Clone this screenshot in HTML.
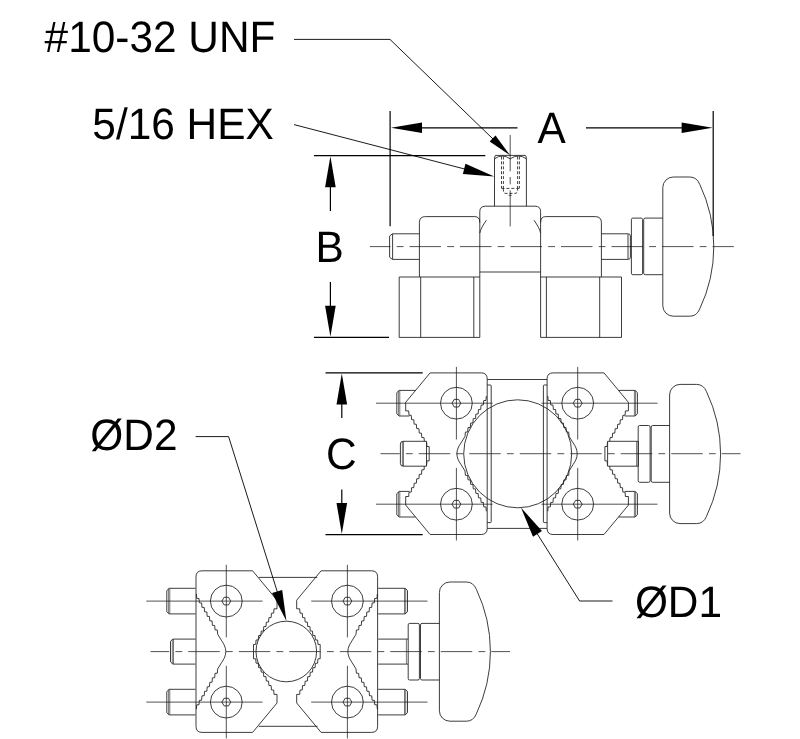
<!DOCTYPE html>
<html><head><meta charset="utf-8"><title>Clamp drawing</title>
<style>
html,body{margin:0;padding:0;background:#fff;}
svg{display:block;will-change:transform;}
.o{stroke:#1a1a1a;stroke-width:.85;fill:none;stroke-linejoin:round;}
.t{stroke:#1a1a1a;stroke-width:.6;fill:none;}
.c{stroke:#1a1a1a;stroke-width:.75;fill:none;}
.h{stroke:#111;stroke-width:.8;fill:none;stroke-dasharray:3 1.9;}
.d{stroke:#000;stroke-width:1.2;fill:none;}
.l{stroke:#000;stroke-width:.9;fill:none;}
.a{fill:#000;stroke:none;}
text{font-family:"Liberation Sans",sans-serif;font-size:42.4px;text-rendering:geometricPrecision;fill:#000;}
</style></head>
<body>
<svg width="800" height="739" viewBox="0 0 800 739">
<rect x="0" y="0" width="800" height="739" fill="#fff"/>
<path class="o" d="M479.8 337.4V211.7Q479.8 206.2 485.3 206.2H535.1Q540.6 206.2 540.6 211.7V337.4" />
<path class="o" d="M479.80 272.00L540.60 272.00" />
<path class="o" d="M494.5 206.2V158.4M526.4 206.2V158.4M495.7 155.4H525.1999999999999" />
<path class="o" d="M494.5 158.6Q494.5 155.4 496.0 155.4M526.4 158.6Q526.4 155.4 524.9 155.4" />
<path class="o" d="M494.5 158.8Q502.35 153.2 510.2 158.8Q518.3 153.2 526.4 158.8" />
<path class="o" d="M479.8 233Q480.8 228 486.40000000000003 220.2" />
<path class="o" d="M540.6 233Q539.6 228 534.0 220.2" />
<path class="o" d="M419.4 277V222.6Q419.4 216.6 425.4 216.6H474.8Q479.8 216.6 479.8 222.5" />
<path class="o" d="M601.4 277V222.6Q601.4 216.6 595.4 216.6H545.6Q540.6 216.6 540.6 222.5" />
<path class="o" d="M479.8 277H399.2V337.4H479.8" />
<path class="o" d="M540.6 277H621.5V337.4H540.6" />
<path class="o" d="M473.80 277.00L473.80 337.40" />
<path class="o" d="M546.40 277.00L546.40 337.40" />
<path class="o" d="M420.70 277.00L420.70 337.40" />
<path class="o" d="M599.70 277.00L599.70 337.40" />
<path class="o" d="M419.4 233.8H392.4L389.6 236V257.2L392.4 259.4H419.4" />
<path class="o" d="M392.60 234.00L392.60 259.20" />
<path class="o" d="M601.4 233.8H628.2Q630.4 233.8 630.4 236V257.2Q630.4 259.4 628.2 259.4H601.4" />
<path class="o" d="M628.00 234.20L628.00 259.00" />
<rect class="o" x="631.4" y="218.1" width="11.2" height="56.6" rx="1.5"/>
<path class="o" d="M662.8000000000001 218.1H645.2Q643.7 218.1 643.7 219.6V273.2Q643.7 274.7 645.2 274.7H662.8000000000001" />
<path class="o" d="M662.8 187.5A10.5 10.5 0 0 1 673.3 177.0H689.8Q696.73 177.0 699.73 184.3A145 145 0 0 1 699.73 308.9Q696.73 316.2 689.8 316.2H673.3A10.5 10.5 0 0 1 662.8 305.7Z" />
<path class="h" d="M501.5 156.5V188.3"/>
<path class="h" d="M503.4 156.5V188.3"/>
<path class="h" d="M517.6 156.5V188.3"/>
<path class="h" d="M519.4 156.5V188.3"/>
<path class="h" d="M501.5 188.4H519.4"/>
<path class="h" d="M503.4 188.6V191Q503.4 193.4 506 193.4H514.6Q517.6 193.4 517.6 191V188.6"/>
<path class="c" d="M508.70 195.30L511.70 195.30" />
<path class="c" d="M510.2 135V171.3M510.2 177V184.3M510.2 190.4V226.4"/>
<path class="c" d="M370.00 246.60H733.80" stroke-dasharray="31.5 6.2 6.8 6" stroke-dashoffset="11.00"/>
<g transform="translate(456.4 453.7) scale(1 1)">
<path class="o" d="M-27.20 0.00L-27.20 -7.10L-29.46 -7.26L-29.76 -11.56L-32.02 -11.72L-32.33 -16.03L-34.58 -16.19L-34.89 -20.49L-37.14 -20.65L-37.45 -24.95L-39.71 -25.11L-40.01 -29.41L-42.27 -29.57L-42.58 -33.88L-44.83 -34.04L-45.14 -38.34L-47.39 -38.50L-47.70 -42.80L-50.70 -42.80L-50.70 -51.40L-26.30 -80.80L24.80 -80.80Q30.8 -80.80 30.8 -74.80L30.8 0" />
<path class="o" d="M0.5 0C0.5 -4.00 2.2 -7.40 4.6 -10.80L8.60 -17.30L9.00 -21.60L11.30 -21.76L11.61 -26.10L13.91 -26.26L14.22 -30.60L16.52 -30.76L16.84 -35.10L19.14 -35.26L19.45 -39.60L21.75 -39.76L22.06 -44.10L24.36 -44.26L24.67 -48.60L26.97 -48.76L27.29 -53.10L29.59 -53.26L29.90 -57.60" />
<path class="o" d="M-27.20 0.00L-27.20 7.10L-29.46 7.26L-29.76 11.56L-32.02 11.72L-32.33 16.03L-34.58 16.19L-34.89 20.49L-37.14 20.65L-37.45 24.95L-39.71 25.11L-40.01 29.41L-42.27 29.57L-42.58 33.88L-44.83 34.04L-45.14 38.34L-47.39 38.50L-47.70 42.80L-50.70 42.80L-50.70 51.40L-26.30 80.80L24.80 80.80Q30.8 80.80 30.8 74.80L30.8 0" />
<path class="o" d="M0.5 0C0.5 4.00 2.2 7.40 4.6 10.80L8.60 17.30L9.00 21.60L11.30 21.76L11.61 26.10L13.91 26.26L14.22 30.60L16.52 30.76L16.84 35.10L19.14 35.26L19.45 39.60L21.75 39.76L22.06 44.10L24.36 44.26L24.67 48.60L26.97 48.76L27.29 53.10L29.59 53.26L29.90 57.60" />
</g>
<circle class="o" cx="456.40" cy="403.20" r="15.90"/>
<path class="o" d="M460.80 403.20L458.60 407.01L454.20 407.01L452.00 403.20L454.20 399.39L458.60 399.39Z" />
<circle class="o" cx="456.40" cy="504.20" r="15.90"/>
<path class="o" d="M460.80 504.20L458.60 508.01L454.20 508.01L452.00 504.20L454.20 500.39L458.60 500.39Z" />
<g transform="translate(577.7 453.7) scale(-1 1)">
<path class="o" d="M-27.20 0.00L-27.20 -7.10L-29.46 -7.26L-29.76 -11.56L-32.02 -11.72L-32.33 -16.03L-34.58 -16.19L-34.89 -20.49L-37.14 -20.65L-37.45 -24.95L-39.71 -25.11L-40.01 -29.41L-42.27 -29.57L-42.58 -33.88L-44.83 -34.04L-45.14 -38.34L-47.39 -38.50L-47.70 -42.80L-50.70 -42.80L-50.70 -51.40L-26.30 -80.80L24.60 -80.80Q30.6 -80.80 30.6 -74.80L30.6 0" />
<path class="o" d="M0.5 0C0.5 -4.00 2.2 -7.40 4.6 -10.80L8.60 -17.30L9.00 -21.60L11.30 -21.76L11.61 -26.10L13.91 -26.26L14.22 -30.60L16.52 -30.76L16.84 -35.10L19.14 -35.26L19.45 -39.60L21.75 -39.76L22.06 -44.10L24.36 -44.26L24.67 -48.60L26.97 -48.76L27.29 -53.10L29.59 -53.26L29.90 -57.60" />
<path class="o" d="M-27.20 0.00L-27.20 7.10L-29.46 7.26L-29.76 11.56L-32.02 11.72L-32.33 16.03L-34.58 16.19L-34.89 20.49L-37.14 20.65L-37.45 24.95L-39.71 25.11L-40.01 29.41L-42.27 29.57L-42.58 33.88L-44.83 34.04L-45.14 38.34L-47.39 38.50L-47.70 42.80L-50.70 42.80L-50.70 51.40L-26.30 80.80L24.60 80.80Q30.6 80.80 30.6 74.80L30.6 0" />
<path class="o" d="M0.5 0C0.5 4.00 2.2 7.40 4.6 10.80L8.60 17.30L9.00 21.60L11.30 21.76L11.61 26.10L13.91 26.26L14.22 30.60L16.52 30.76L16.84 35.10L19.14 35.26L19.45 39.60L21.75 39.76L22.06 44.10L24.36 44.26L24.67 48.60L26.97 48.76L27.29 53.10L29.59 53.26L29.90 57.60" />
</g>
<circle class="o" cx="577.70" cy="403.20" r="15.90"/>
<path class="o" d="M582.10 403.20L579.90 407.01L575.50 407.01L573.30 403.20L575.50 399.39L579.90 399.39Z" />
<circle class="o" cx="577.70" cy="504.20" r="15.90"/>
<path class="o" d="M582.10 504.20L579.90 508.01L575.50 508.01L573.30 504.20L575.50 500.39L579.90 500.39Z" />
<path class="o" d="M487.2 385H490.4Q491.2 385 491.2 385.8V521.8Q491.2 522.6 490.4 522.6H487.2" />
<path class="o" d="M547.1 385H544.2Q543.4 385 543.4 385.8V521.8Q543.4 522.6 544.2 522.6H547.1" />
<path class="o" d="M487.20 379.50L547.10 379.50" />
<path class="o" d="M487.20 528.40L547.10 528.40" />
<circle class="o" cx="517.70" cy="453.80" r="54.00"/>
<path class="o" d="M415.4 390.4H399.2L396.8 392.59999999999997V413.8L399.2 416.0H409.3" />
<path class="t" d="M398.60 390.80L398.60 415.60" />
<path class="t" d="M399.80 390.60L399.80 415.80" />
<path class="o" d="M409.3 491.4H399.2L396.8 493.59999999999997V514.8L399.2 517.0H415.4" />
<path class="t" d="M398.60 491.80L398.60 516.60" />
<path class="t" d="M399.80 491.60L399.80 516.80" />
<path class="o" d="M618.7 390.4H635.0L637.4 392.59999999999997V413.8L635.0 416.0H624.8" />
<path class="t" d="M635.60 390.80L635.60 415.60" />
<path class="t" d="M634.40 390.60L634.40 415.80" />
<path class="o" d="M624.8 491.4H635.0L637.4 493.59999999999997V514.8L635.0 517.0H618.7" />
<path class="t" d="M635.60 491.80L635.60 516.60" />
<path class="t" d="M634.40 491.60L634.40 516.80" />
<path class="o" d="M426.5 441.3H403Q400.4 441.3 400.4 444V463.4Q400.4 466.2 403 466.2H426.5Z" style="fill:#fff"/>
<path class="t" d="M402.40 441.60L402.40 466.00" />
<path class="t" d="M403.50 441.50L403.50 466.00" />
<path class="o" d="M638.3 441.3H607.6V466.2H638.3Z" style="fill:#fff"/>
<rect class="o" x="638.2" y="425.5" width="11.9" height="56.8" rx="1.5"/>
<path class="o" d="M669.7 425.5H652.7Q651.2 425.5 651.2 427.0V480.8Q651.2 482.3 652.7 482.3H669.7" />
<path class="t" d="M636.60 441.60L636.60 466.00" />
<path class="o" d="M669.6 394.9A10.5 10.5 0 0 1 680.1 384.4H696.6Q703.53 384.4 706.53 391.7A145 145 0 0 1 706.53 516.3Q703.53 523.6 696.6 523.6H680.1A10.5 10.5 0 0 1 669.6 513.1Z" />
<path class="c" d="M376.00 403.20L492.60 403.20" />
<path class="c" d="M541.40 403.20L657.50 403.20" />
<path class="c" d="M456.40 366.90L456.40 439.50" />
<path class="c" d="M577.70 366.90L577.70 439.50" />
<path class="c" d="M376.00 504.20L492.60 504.20" />
<path class="c" d="M541.40 504.20L657.50 504.20" />
<path class="c" d="M456.40 467.90L456.40 540.50" />
<path class="c" d="M577.70 467.90L577.70 540.50" />
<path class="c" d="M380.50 453.70H740.50" stroke-dasharray="31.5 6.2 6.8 6" stroke-dashoffset="12.25"/>
<g transform="translate(226.3 651.6) scale(-1 1)">
<path class="o" d="M-27.20 0.00L-27.20 -7.10L-29.46 -7.26L-29.76 -11.56L-32.02 -11.72L-32.33 -16.03L-34.58 -16.19L-34.89 -20.49L-37.14 -20.65L-37.45 -24.95L-39.71 -25.11L-40.01 -29.41L-42.27 -29.57L-42.58 -33.88L-44.83 -34.04L-45.14 -38.34L-47.39 -38.50L-47.70 -42.80L-50.70 -42.80L-50.70 -51.40L-26.30 -80.80L24.30 -80.80Q30.3 -80.80 30.3 -74.80L30.3 0" />
<path class="o" d="M0.5 0C0.5 -4.00 2.2 -7.40 4.6 -10.80L8.60 -17.30L9.00 -21.60L11.30 -21.76L11.61 -26.10L13.91 -26.26L14.22 -30.60L16.52 -30.76L16.84 -35.10L19.14 -35.26L19.45 -39.60L21.75 -39.76L22.06 -44.10L24.36 -44.26L24.67 -48.60L26.97 -48.76L27.29 -53.10L29.59 -53.26L29.90 -57.60" />
<path class="o" d="M-27.20 0.00L-27.20 7.10L-29.46 7.26L-29.76 11.56L-32.02 11.72L-32.33 16.03L-34.58 16.19L-34.89 20.49L-37.14 20.65L-37.45 24.95L-39.71 25.11L-40.01 29.41L-42.27 29.57L-42.58 33.88L-44.83 34.04L-45.14 38.34L-47.39 38.50L-47.70 42.80L-50.70 42.80L-50.70 51.40L-26.30 80.80L24.30 80.80Q30.3 80.80 30.3 74.80L30.3 0" />
<path class="o" d="M0.5 0C0.5 4.00 2.2 7.40 4.6 10.80L8.60 17.30L9.00 21.60L11.30 21.76L11.61 26.10L13.91 26.26L14.22 30.60L16.52 30.76L16.84 35.10L19.14 35.26L19.45 39.60L21.75 39.76L22.06 44.10L24.36 44.26L24.67 48.60L26.97 48.76L27.29 53.10L29.59 53.26L29.90 57.60" />
</g>
<circle class="o" cx="226.30" cy="601.10" r="15.90"/>
<path class="o" d="M230.70 601.10L228.50 604.91L224.10 604.91L221.90 601.10L224.10 597.29L228.50 597.29Z" />
<circle class="o" cx="226.30" cy="702.10" r="15.90"/>
<path class="o" d="M230.70 702.10L228.50 705.91L224.10 705.91L221.90 702.10L224.10 698.29L228.50 698.29Z" />
<g transform="translate(347.4 651.6) scale(1 1)">
<path class="o" d="M-27.20 0.00L-27.20 -7.10L-29.46 -7.26L-29.76 -11.56L-32.02 -11.72L-32.33 -16.03L-34.58 -16.19L-34.89 -20.49L-37.14 -20.65L-37.45 -24.95L-39.71 -25.11L-40.01 -29.41L-42.27 -29.57L-42.58 -33.88L-44.83 -34.04L-45.14 -38.34L-47.39 -38.50L-47.70 -42.80L-50.70 -42.80L-50.70 -51.40L-26.30 -80.80L24.20 -80.80Q30.2 -80.80 30.2 -74.80L30.2 0" />
<path class="o" d="M0.5 0C0.5 -4.00 2.2 -7.40 4.6 -10.80L8.60 -17.30L9.00 -21.60L11.30 -21.76L11.61 -26.10L13.91 -26.26L14.22 -30.60L16.52 -30.76L16.84 -35.10L19.14 -35.26L19.45 -39.60L21.75 -39.76L22.06 -44.10L24.36 -44.26L24.67 -48.60L26.97 -48.76L27.29 -53.10L29.59 -53.26L29.90 -57.60" />
<path class="o" d="M-27.20 0.00L-27.20 7.10L-29.46 7.26L-29.76 11.56L-32.02 11.72L-32.33 16.03L-34.58 16.19L-34.89 20.49L-37.14 20.65L-37.45 24.95L-39.71 25.11L-40.01 29.41L-42.27 29.57L-42.58 33.88L-44.83 34.04L-45.14 38.34L-47.39 38.50L-47.70 42.80L-50.70 42.80L-50.70 51.40L-26.30 80.80L24.20 80.80Q30.2 80.80 30.2 74.80L30.2 0" />
<path class="o" d="M0.5 0C0.5 4.00 2.2 7.40 4.6 10.80L8.60 17.30L9.00 21.60L11.30 21.76L11.61 26.10L13.91 26.26L14.22 30.60L16.52 30.76L16.84 35.10L19.14 35.26L19.45 39.60L21.75 39.76L22.06 44.10L24.36 44.26L24.67 48.60L26.97 48.76L27.29 53.10L29.59 53.26L29.90 57.60" />
</g>
<circle class="o" cx="347.40" cy="601.10" r="15.90"/>
<path class="o" d="M351.80 601.10L349.60 604.91L345.20 604.91L343.00 601.10L345.20 597.29L349.60 597.29Z" />
<circle class="o" cx="347.40" cy="702.10" r="15.90"/>
<path class="o" d="M351.80 702.10L349.60 705.91L345.20 705.91L343.00 702.10L345.20 698.29L349.60 698.29Z" />
<path class="o" d="M258.80 577.40L317.20 577.40" />
<path class="o" d="M258.80 726.30L317.50 726.30" />
<circle class="o" cx="286.30" cy="651.50" r="30.30"/>
<path class="o" d="M195.5 588.3000000000001H169.20000000000002L166.8 590.5000000000001V611.6999999999999L169.20000000000002 613.9H195.5" />
<path class="t" d="M168.60 588.70L168.60 613.50" />
<path class="t" d="M169.80 588.50L169.80 613.70" />
<path class="o" d="M378.2 588.3000000000001H405.1L407.5 590.5000000000001V611.6999999999999L405.1 613.9H378.2" />
<path class="t" d="M405.70 588.70L405.70 613.50" />
<path class="t" d="M404.50 588.50L404.50 613.70" />
<path class="o" d="M195.5 689.3000000000001H169.20000000000002L166.8 691.5000000000001V712.6999999999999L169.20000000000002 714.9H195.5" />
<path class="t" d="M168.60 689.70L168.60 714.50" />
<path class="t" d="M169.80 689.50L169.80 714.70" />
<path class="o" d="M378.2 689.3000000000001H405.1L407.5 691.5000000000001V712.6999999999999L405.1 714.9H378.2" />
<path class="t" d="M405.70 689.70L405.70 714.50" />
<path class="t" d="M404.50 689.50L404.50 714.70" />
<path class="o" d="M195.5 639.1H172.9L170.5 641.3000000000001V661.9L172.9 664.1H195.5" />
<path class="t" d="M172.30 639.50L172.30 663.70" />
<path class="t" d="M173.50 639.30L173.50 663.90" />
<path class="o" d="M378.2 639.1H408.2M378.2 664.1H408.2" />
<path class="t" d="M406.40 639.40L406.40 663.80" />
<rect class="o" x="408.2" y="623.4" width="11.2" height="56.6" rx="1.5"/>
<path class="o" d="M439.4 623.4H422.0Q420.5 623.4 420.5 624.9V678.5Q420.5 680.0 422.0 680.0H439.4" />
<path class="o" d="M439.4 592.5A10.5 10.5 0 0 1 449.9 582.0H466.4Q473.33 582.0 476.33 589.3000000000001A145 145 0 0 1 476.33 713.9Q473.33 721.2 466.4 721.2H449.9A10.5 10.5 0 0 1 439.4 710.7Z" />
<path class="c" d="M146.30 601.10L262.60 601.10" />
<path class="c" d="M311.20 601.10L427.50 601.10" />
<path class="c" d="M226.30 564.80L226.30 637.40" />
<path class="c" d="M347.40 564.80L347.40 637.40" />
<path class="c" d="M146.30 702.10L262.60 702.10" />
<path class="c" d="M311.20 702.10L427.50 702.10" />
<path class="c" d="M226.30 665.80L226.30 738.40" />
<path class="c" d="M347.40 665.80L347.40 738.40" />
<path class="c" d="M150.50 651.60H510.00" stroke-dasharray="31.5 6.2 6.8 6" stroke-dashoffset="12.75"/>
<path class="d" d="M390.10 111.00L390.10 226.30" />
<path class="d" d="M713.20 111.00L713.20 236.00" />
<path class="d" d="M400.00 127.80L517.50 127.80" />
<path class="d" d="M586.00 127.80L705.00 127.80" />
<path class="a" d="M391.00 127.80L422.00 122.50L422.00 133.10Z"/>
<path class="a" d="M712.60 127.80L681.60 133.10L681.60 122.50Z"/>
<path class="d" d="M314.00 155.60L485.30 155.60" />
<path class="d" d="M314.00 337.40L389.00 337.40" />
<path class="d" d="M330.40 170.00L330.40 211.00" />
<path class="d" d="M330.40 282.00L330.40 320.00" />
<path class="a" d="M330.40 156.20L335.70 187.20L325.10 187.20Z"/>
<path class="a" d="M330.40 336.80L325.10 305.80L335.70 305.80Z"/>
<path class="d" d="M325.50 372.90L422.70 372.90" />
<path class="d" d="M325.50 534.60L422.70 534.60" />
<path class="d" d="M341.80 390.00L341.80 418.00" />
<path class="d" d="M341.80 489.50L341.80 520.00" />
<path class="a" d="M341.80 373.50L347.10 404.50L336.50 404.50Z"/>
<path class="a" d="M341.80 534.00L336.50 503.00L347.10 503.00Z"/>
<path class="l" d="M294 39.4H390L505 150.6" />
<path class="a" d="M510.20 155.50L489.67 141.49L495.50 135.45Z"/>
<path class="l" d="M294 124.6L474.22 171.50" />
<path class="a" d="M494.20 176.60L462.85 174.07L465.47 163.80Z"/>
<path class="l" d="M195.6 436.6H228.6L283 610" />
<path class="a" d="M286.40 621.10L272.07 593.10L282.19 589.93Z"/>
<path class="l" d="M612.5 601H579.6L526 516" />
<path class="a" d="M521.00 507.60L541.96 531.04L532.99 536.68Z"/>
<text transform="translate(44.6 52.4) scale(1 1.035)">#10-32 UNF</text>
<text transform="translate(92.3 139) scale(1 1.035)">5/16 HEX</text>
<text transform="translate(537.5 143) scale(1 1.035)">A</text>
<text transform="translate(315.4 261.6) scale(1 1.035)">B</text>
<text transform="translate(326 469) scale(1 1.035)">C</text>
<text transform="translate(90.3 450.2) scale(1 1.035)">ØD2</text>
<text transform="translate(634.9 617) scale(1 1.035)">ØD1</text>
</svg>
</body></html>
